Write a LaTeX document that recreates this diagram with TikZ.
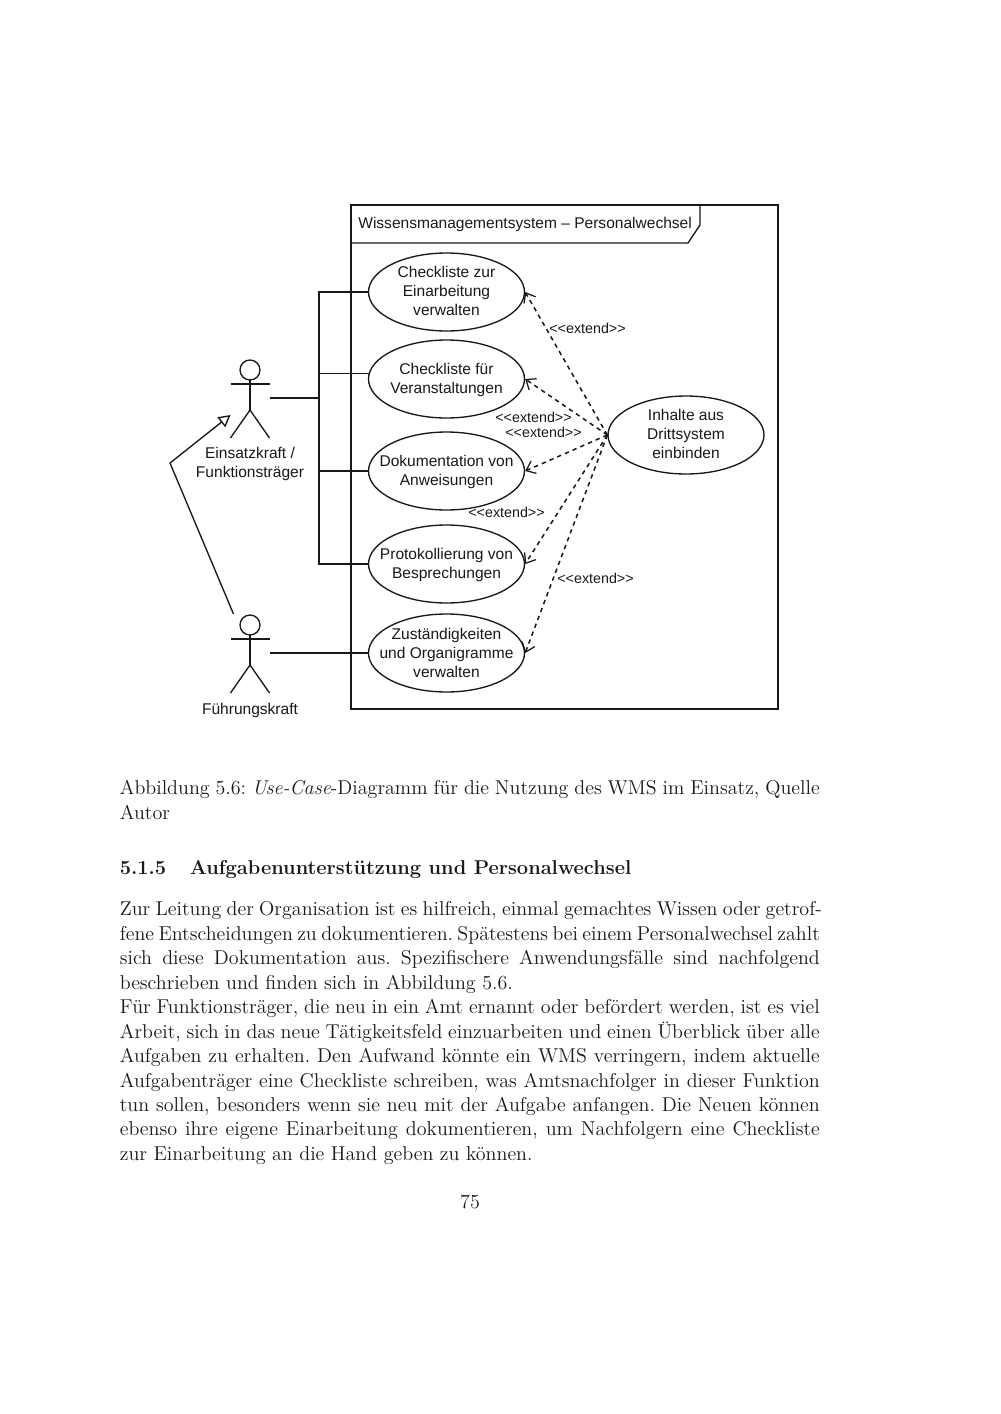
\documentclass[tikz,border=0pt]{standalone}
\usepackage{fontspec}
\usetikzlibrary{shapes.geometric,arrows.meta}
\newfontfamily\diagfont{Liberation Sans}
\newlength{\tw}
\setlength{\tw}{416.5pt}
\definecolor{inkc}{gray}{0.1}
\tikzset{
  usecase/.style={ellipse,draw=inkc,line width=0.8pt,minimum width=92.8pt,minimum height=46.4pt,inner sep=0pt},
  lbl/.style={inner sep=0pt,align=center,text=inkc,font=\diagfont\fontsize{9.25}{11.2}\selectfont},
  ext/.style={inner sep=0pt,text=inkc,font=\diagfont\fontsize{8.5}{10}\selectfont},
  ln/.style={line width=0.8pt,draw=inkc},
  dep/.style={line width=0.9pt,draw=inkc,dash pattern=on 2.6pt off 2.4pt,-{Straight Barb[length=5pt,width=8pt,line width=0.75pt]}},
  gen/.style={line width=0.8pt,draw=inkc,-{Triangle[open,fill=white,length=7pt,width=7.5pt,line width=0.8pt]}},
  body/.style={anchor=base west,inner sep=0pt,text=inkc,font=\fontsize{11.92}{14.5}\selectfont\frenchspacing}
}
\newcommand{\fullline}[3]{\node[body] (#1) at (119.5,#2) {\makebox[\tw][s]{#3}};}
\newcommand{\shortline}[3]{\node[body] (#1) at (119.5,#2) {#3};}
\newcommand{\actor}[3]{%
  \draw[ln] (#2,#3) circle (10);
  \draw[ln] (#2,#3+10) -- (#2,#3+40);
  \draw[ln] (#2-19.5,#3+14) -- (#2+19.5,#3+14);
  \draw[ln] (#2-19.5,#3+68) -- (#2,#3+40) -- (#2+19.5,#3+68);
  \coordinate (#1) at (#2+20,#3+28);
}
\newcommand{\ucase}[5]{%
  \node[usecase] (#1) at (#2,#3) {};
  \node[lbl] (#1t) at (#2,#5) {#4};
}
\begin{document}
\begin{tikzpicture}[x=0.595pt,y=-0.595pt]
\useasboundingbox (0,0) rectangle (1000,1414);
\fill[white] (0,0) rectangle (1000,1414);
% frame
\draw[ln] (351,205) rectangle (778,709);
\draw[ln] (351,243) -- (688,243) -- (700,225) -- (700,205);
\node[lbl,anchor=west] (title) at (358,224) {Wissensmanagementsystem – Personalwechsel};
% actors
\actor{a1}{250}{370}
\actor{a2}{250}{625}
\node[lbl] (a1l) at (250,464.3) {Einsatzkraft /\\Funktionsträger};
\node[lbl] (a2l) at (250,710) {Führungskraft};
% use cases
\ucase{u1}{446.5}{292}{Checkliste zur\\Einarbeitung\\verwalten}{291.2}
\ucase{u2}{446.5}{379}{Checkliste für\\Veranstaltungen}{379.7}
\ucase{u3}{446.5}{471}{Dokumentation von\\Anweisungen}{471.7}
\ucase{u4}{446.5}{564}{Protokollierung von\\Besprechungen}{564.7}
\ucase{u5}{446.5}{653}{Zuständigkeiten\\und Organigramme\\verwalten}{652.7}
\ucase{d}{686}{435}{Inhalte aus\\Drittsystem\\einbinden}{433.7}
% associations
\coordinate (j) at (319,398);
\draw[ln] (a1) -- (j);
\draw[ln] (u1.west) -| (j);
\draw[ln] (u2.176.8) -- (u2.176.8 -| j);
\draw[ln] (u3.west) -- (u3.west -| j);
\draw[ln] (u4.west) -| (j);
\draw[ln] (a2) -- (u5.west);
% generalisation
\coordinate (g0) at (233.5,614);
\coordinate (g1) at (170,463);
\coordinate (g2) at (230.5,415);
\draw[gen] (g0) -- (g1) -- (g2);
% extends
\foreach \t in {u1,u2,u3,u4,u5} \draw[dep] (d.west) -- (\t.east);
\node[ext] (e1) at (587.5,328.5) {<{}<extend>{}>};
\node[ext] (e2) at (533.5,417.5) {<{}<extend>{}>};
\node[ext] (e3) at (543.5,432.5) {<{}<extend>{}>};
\node[ext] (e4) at (506.5,512.5) {<{}<extend>{}>};
\node[ext] (e5) at (595.5,578.5) {<{}<extend>{}>};
% text
\fullline{c1}{794}{Abbildung 5.6: \textit{Use-Case}-Diagramm für die Nutzung des WMS im Einsatz, Quelle}
\shortline{c2}{819}{Autor}
\node[body,font=\fontsize{11.92}{14.5}\selectfont\bfseries] (h0) at (119.5,874) {5.1.5};
\node[body,font=\fontsize{11.92}{14.5}\selectfont\bfseries] (h1) at (189.5,874) {Aufgabenunterstützung und Personalwechsel};
\node[body] (b1) at (119.5,915.5) {\makebox[417.7pt][s]{Zur Leitung der Organisation ist es hilfreich, einmal gemachtes Wissen oder getrof-}};
\fullline{b2}{940}{fene Entscheidungen zu dokumentieren. Spätestens bei einem Personalwechsel zahlt}
\fullline{b3}{964.5}{sich diese Dokumentation aus. Spezifischere Anwendungsfälle sind nachfolgend}
\shortline{b4}{989}{beschrieben und finden sich in Abbildung 5.6.}
\fullline{b5}{1013.5}{Für Funktionsträger, die neu in ein Amt ernannt oder befördert werden, ist es viel}
\fullline{b6}{1038}{Arbeit, sich in das neue Tätigkeitsfeld einzuarbeiten und einen Überblick über alle}
\fullline{b7}{1062.5}{Aufgaben zu erhalten. Den Aufwand könnte ein WMS verringern, indem aktuelle}
\fullline{b8}{1087}{Aufgabenträger eine Checkliste schreiben, was Amtsnachfolger in dieser Funktion}
\fullline{b9}{1111}{tun sollen, besonders wenn sie neu mit der Aufgabe anfangen. Die Neuen können}
\fullline{b10}{1135.5}{ebenso ihre eigene Einarbeitung dokumentieren, um Nachfolgern eine Checkliste}
\shortline{b11}{1160}{zur Einarbeitung an die Hand geben zu können.}
\node[body,anchor=base] (pg) at (470,1208.5) {75};
\end{tikzpicture}
\end{document}
